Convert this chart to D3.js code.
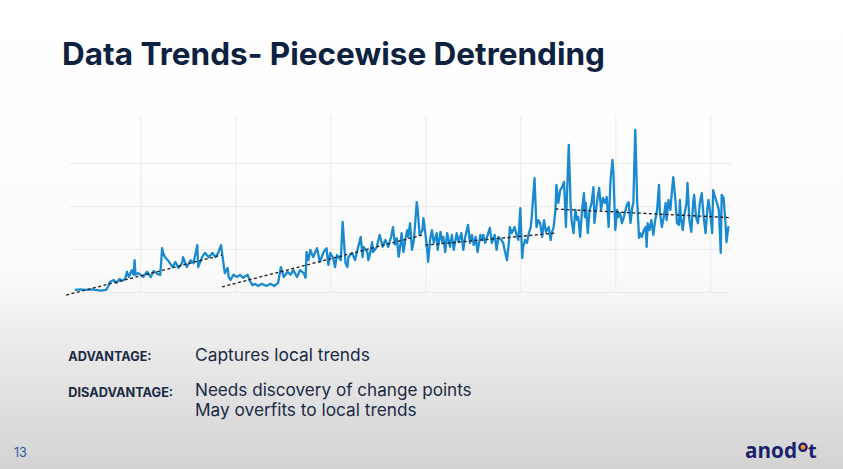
<!DOCTYPE html>
<html><head><meta charset="utf-8">
<script src="https://cdn.jsdelivr.net/npm/d3@7"></script>
<style>html,body{margin:0;padding:0;background:#fff;overflow:hidden}</style>
</head><body>
<svg id="c" width="843" height="469"></svg>
<script>
// ---- data (day index, value) ----
const daysA = [31,37,42,47,53, 58,64,66,68,72, 75,78,81,84,86, 88,91,93,94,95, 98,103,107,111,114,
  118,121,123,124,126, 129,134,137,140,144, 145,149,153,156,160, 161,165,168,172,176, 179,182,185,188];
const valsA = [5,6,5,6,5, 3,5,12,23,28, 21,30,26,30,47, 35,51,40,74,40, 44,35,47,35,49,
  42,40,102,91,81, 74,58,70,56,67, 81,58,74,67,109, 58,81,91,81,91, 81,91,109,59];
const daysB = [189,192,193,195,198, 202,205,208,213,215, 218,221,224,228,233, 237,241,245,248,251,
  255,258,261,265,268, 272,274,275,277,279, 282,286,289,293,296, 298,300,303,305,307, 311,313,316,318,319,
  323,326,328,332,334, 335,339,340,342,344, 345,349,352,355,358, 361,364,366,368,370, 372];
const valsB = [44,56,35,28,40, 35,40,33,40,28, 16,19,14,19,14, 19,14,21,58,35,
  47,40,51,35,51, 44,33,93,74,98, 81,102,70,93,102, 63,91,79,58,86, 74,163,67,58,81,
  91,74,93,128,81, 105,93,74,91,116, 93,105,133,105,121, 105,128,151,110,125, 82];
const daysC = [374,375,377,379,381, 382,384,386,388,391, 392,394,397,398,400, 402,403,405,407,409,
  412,413,416,418,419, 421,423,426,428,430, 433,435,438,440,442, 445,447,449,451,453, 455,458,460,461,463,
  465,468,470,473,475, 477,480,482,484,486, 488,489,491,494,496, 498,500,502,503,505, 507,509,511,512,515,
  517,519,521,523,525, 527,530,532,533,535, 537,538,540,542,544, 546,547,548,551];
const valsC = [114,137,93,121,144, 128,160,98,121,209, 191,133,144,172,137, 98,70,121,144,114,
  137,98,140,114,128, 93,137,105,133,98, 137,116,137,98,128, 156,114,133,109,128, 93,133,121,133,114,
  128,149,114,133,98, 128,121,114,93,74, 116,151,137,151,133, 121,195,79,105,121, 114,137,151,174,265,
  151,167,160,128,167, 140,151,121,137,149, 191,249,207,237,244, 256,207,151,342];
const daysD = [553,554,556,558,560, 561,563,565,567,568, 569,571,573,575,577, 578,581,583,585,587,
  589,591,593,595,597, 598,600,602,603,605, 607,609,612,614,616, 618,619,621,623,625, 626,628,630,632,633,
  634,636,638,640,642, 644,646,647,649,651, 653,654,656,658,660, 661,663,665,667,668, 669,671,673,675,676,
  678,680,682,683,685, 687,689,691,693,695, 697,698,700,702,703, 705,707,709,711,712, 714,716,717,719,720];
const valsD = [202,167,137,191,167, 174,128,191,230,174, 207,137,191,207,244, 160,214,242,191,219,
  207,221,151,261,307, 277,144,191,174,184, 160,174,202,209,160, 198,207,377,214,126, 137,128,144,151,105,
  160,144,167,133,167, 191,249,184,151,174, 207,167,214,191,244, 267,221,160,156,214, 174,144,184,207,254,
  167,140,207,226,174, 160,207,230,174,137, 195,214,184,137,237, 221,207,191,91,226, 219,160,116,151,151];

// piecewise linear trend segments: [start, end]
const trendDays   = [[22,186],[186,398],[400,537],[537,721]];
const trendValues = [[-7,86],[12,133],[109,137],[193,173]];

const gridDays = [100,200,300,400,500,600,700];
const gridValues = [0,100,200,300];

const titleText = "Data Trends- Piecewise Detrending";
const labels = ["ADVANTAGE:", "DISADVANTAGE:"];
const advText = ["Captures local trends"];
const disText = ["Needs discovery of change points", "May overfits to local trends"];
const pageNum = "13";

// ---- drawing ----
const svg = d3.select("#c");
const defs = svg.append("defs");
const grad = defs.append("linearGradient").attr("id","bg").attr("x1",0).attr("y1",0).attr("x2",0).attr("y2",1);
[[0,"#ffffff"],[0.58,"#fbfbfb"],[0.72,"#ececec"],[1,"#d3d3d3"]].forEach(s=>grad.append("stop").attr("offset",s[0]).attr("stop-color",s[1]));
svg.append("rect").attr("width",843).attr("height",469).attr("fill","url(#bg)");

const x = d3.scaleLinear().domain([26,722]).range([70,731.2]);
const y = d3.scaleLinear().domain([0,400]).range([292,120]);

svg.append("g").attr("transform","translate(0,"+y(0)+")")
  .call(d3.axisBottom(x).tickValues(gridDays).tickSize(-(y(0)-115)).tickFormat(""))
  .call(g=>g.select(".domain").remove())
  .call(g=>g.selectAll("line").attr("stroke","#ebebeb").attr("stroke-width",1));
svg.append("g").attr("transform","translate("+x.range()[0]+",0)")
  .call(d3.axisLeft(y).tickValues(gridValues).tickSize(-(x.range()[1]-x.range()[0])).tickFormat(""))
  .call(g=>g.select(".domain").remove())
  .call(g=>g.selectAll("line").attr("stroke","#ebebeb").attr("stroke-width",1));

const days = daysA.concat(daysB, daysC, daysD);
const vals = valsA.concat(valsB, valsC, valsD);
const series = days.map((d,i)=>[d, vals[i]]);
const line = d3.line().x(d=>x(d[0])).y(d=>y(d[1]));
svg.append("path").datum(series).attr("d",line)
  .attr("fill","none").attr("stroke","#1a8ad0").attr("stroke-width",2.3)
  .attr("stroke-linejoin","round");

trendDays.forEach((td,i)=>{
  const pts = [[td[0],trendValues[i][0]],[td[1],trendValues[i][1]]];
  svg.append("path").datum(pts).attr("d",line)
    .attr("fill","none").attr("stroke","#1b1b1b").attr("stroke-width",1.3)
    .attr("stroke-dasharray","3,2.5");
});

function fit(sel, w){
  const fs = parseFloat(sel.attr("font-size"));
  const L = sel.node().getComputedTextLength();
  if (L>0) sel.attr("font-size", fs*w/L);
  return sel;
}

fit(svg.append("text").attr("x",62).attr("y",65).attr("font-family","Inter, 'Open Sans', sans-serif")
  .attr("font-weight",700).attr("font-size",32).attr("fill","#0d2240").text(titleText), 543);

const navy = "#1a2a45";
fit(svg.append("text").attr("x",68.3).attr("y",360.7).attr("font-family","Inter, sans-serif")
  .attr("font-weight",700).attr("font-size",11.5).attr("fill",navy).text(labels[0]), 83.4);
fit(svg.append("text").attr("x",68.3).attr("y",396.5).attr("font-family","Inter, sans-serif")
  .attr("font-weight",700).attr("font-size",11.5).attr("fill",navy).text(labels[1]), 105);
fit(svg.append("text").attr("x",195).attr("y",360.7).attr("font-family","Inter, sans-serif")
  .attr("font-size",17).attr("fill",navy).text(advText[0]), 175);
fit(svg.append("text").attr("x",195).attr("y",395.8).attr("font-family","Inter, sans-serif")
  .attr("font-size",16.5).attr("fill",navy).text(disText[0]), 276.7);
fit(svg.append("text").attr("x",195).attr("y",416.3).attr("font-family","Inter, sans-serif")
  .attr("font-size",16.5).attr("fill",navy).text(disText[1]), 221.7);

svg.append("text").attr("x",14).attr("y",456.7).attr("font-family","Inter, sans-serif")
  .attr("font-size",12.5).attr("fill","#2b55a5").text(pageNum);

// logo
const logoC = "#1b1f6e";
fit(svg.append("text").attr("x",745).attr("y",458.3).attr("font-family","'Open Sans', sans-serif")
  .attr("font-weight",700).attr("font-size",20).attr("fill",logoC).text("anod"), 52);
svg.append("circle").attr("cx",803).attr("cy",447.3).attr("r",3.6)
  .attr("fill","#f0932b").attr("stroke",logoC).attr("stroke-width",2.3);
svg.append("text").attr("x",808).attr("y",458.3).attr("font-family","'Open Sans', sans-serif")
  .attr("font-weight",700).attr("font-size",20).attr("fill",logoC).text("t");
</script>
</body></html>
